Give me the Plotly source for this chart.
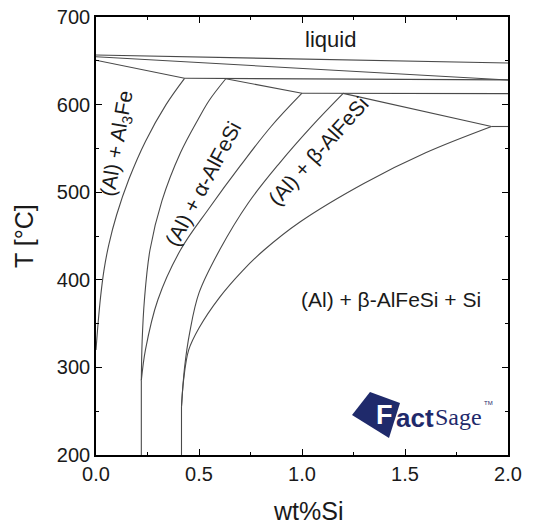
import plotly.graph_objects as go

# ---------------- data (wt% Si, T in degC) ----------------
# solvus-type curves (smooth)
c1_x = [0.0, 0.01, 0.022, 0.038, 0.062, 0.10, 0.16, 0.24, 0.34, 0.43]
c1_t = [320, 350, 380, 410, 440, 474, 515, 558, 600, 630]

trunk1_x = [0.22, 0.22]
trunk1_t = [200, 285]
ca_x = [0.22, 0.224, 0.235, 0.262, 0.32, 0.41, 0.50, 0.55, 0.63]
ca_t = [285, 330, 377, 434, 490, 545, 585, 605, 629.5]
cb_x = [0.22, 0.24, 0.30, 0.41, 0.55, 0.70, 0.85, 1.00]
cb_t = [285, 320, 377, 434, 482, 530, 575, 613]

trunk2_x = [0.415, 0.415]
trunk2_t = [200, 255]
c3l_x = [0.415, 0.43, 0.455, 0.50, 0.60, 0.74, 0.89, 1.05, 1.20]
c3l_t = [255, 300, 340, 385, 434, 488, 533, 576, 612.8]
c3r_x = [0.415, 0.425, 0.45, 0.50, 0.60, 0.71, 0.816, 0.99, 1.30, 1.60, 1.92]
c3r_t = [255, 285, 320, 345, 380, 410, 434, 466, 510, 545, 575]

# straight boundaries
l1_x = [0.0, 2.0]
l1_t = [656.6, 647.5]
l2_x = [0.0, 2.0]
l2_t = [654.6, 628.0]
l3_x = [0.0, 0.43]
l3_t = [650.7, 630]
h630_x = [0.43, 2.0]
h630_t = [630, 628.2]
s23_x = [0.63, 1.00]
s23_t = [629.5, 613]
h612_x = [1.00, 2.0]
h612_t = [613, 612.5]
s45_x = [1.20, 1.92]
s45_t = [612.8, 575]
h575_x = [1.92, 2.0]
h575_t = [575, 575]

x_ticks = [0.0, 0.5, 1.0, 1.5, 2.0]
x_ticklabels = ["0.0", "0.5", "1.0", "1.5", "2.0"]
y_ticks = [200, 300, 400, 500, 600, 700]
y_ticklabels = ["200", "300", "400", "500", "600", "700"]

FONT = "Arial, Liberation Sans, sans-serif"
CURVE = "#4a4a4a"

fig = go.Figure()

smooth = [(c1_x, c1_t), (ca_x, ca_t), (cb_x, cb_t), (c3l_x, c3l_t), (c3r_x, c3r_t)]
straight = [(trunk1_x, trunk1_t), (trunk2_x, trunk2_t), (l1_x, l1_t), (l2_x, l2_t),
            (l3_x, l3_t), (h630_x, h630_t), (s23_x, s23_t), (h612_x, h612_t),
            (s45_x, s45_t), (h575_x, h575_t)]

for xs, ts in smooth:
    fig.add_trace(go.Scatter(x=xs, y=ts, mode="lines",
                             line=dict(color=CURVE, width=1.1, shape="spline", smoothing=1.0),
                             hoverinfo="skip", showlegend=False))
for xs, ts in straight:
    fig.add_trace(go.Scatter(x=xs, y=ts, mode="lines",
                             line=dict(color=CURVE, width=1.1),
                             hoverinfo="skip", showlegend=False))

def lab(size):
    return dict(family=FONT, size=size, color="#1a1a1a")

fig.add_annotation(x=1.136, y=674, text="liquid", showarrow=False, font=lab(22),
                   xanchor="center", yanchor="middle")
fig.add_annotation(x=0.106, y=556, text="(Al) + Al<sub>3</sub>Fe", showarrow=False,
                   font=lab(21), textangle=-80, xanchor="center", yanchor="middle")
fig.add_annotation(x=0.52, y=510, text="(Al) + α-AlFeSi", showarrow=False,
                   font=lab(21), textangle=-62, xanchor="center", yanchor="middle")
fig.add_annotation(x=1.08, y=548, text="(Al) + β-AlFeSi", showarrow=False,
                   font=lab(21), textangle=-48, xanchor="center", yanchor="middle")
fig.add_annotation(x=1.432, y=377, text="(Al) + β-AlFeSi + Si", showarrow=False,
                   font=lab(21), xanchor="center", yanchor="middle")

# axis titles
fig.add_annotation(xref="paper", yref="paper", x=0.515, y=-0.128, text="wt%Si",
                   showarrow=False, xanchor="center", yanchor="middle",
                   font=dict(family=FONT, size=25, color="#1a1a1a"))
fig.add_annotation(xref="paper", yref="paper", x=-0.175, y=0.50, text="T [°C]",
                   showarrow=False, textangle=-90, xanchor="center", yanchor="middle",
                   font=dict(family=FONT, size=25, color="#1a1a1a"))

# FactSage logo (decoration)
NAVY = "#1f2a6b"
def px(p):
    return (p - 96) / 412
def py(p):
    return (455 - p) / 438
fig.add_shape(type="path", xref="paper", yref="paper",
              path=f"M {px(352)} {py(415)} L {px(370)} {py(392)} L {px(400)} {py(403)} "
                   f"L {px(389)} {py(438)} Z",
              fillcolor=NAVY, line=dict(width=0), layer="above")
fig.add_annotation(xref="paper", yref="paper", x=px(384), y=py(415), text="<b>F</b>",
                   xanchor="center", yanchor="middle", showarrow=False,
                   font=dict(family=FONT, size=27, color="white"))
fig.add_annotation(xref="paper", yref="paper", x=px(394), y=py(418), text="<b>act</b>",
                   xanchor="left", yanchor="middle", showarrow=False,
                   font=dict(family=FONT, size=26, color=NAVY))
fig.add_annotation(xref="paper", yref="paper", x=px(433), y=py(417), text="Sage",
                   xanchor="left", yanchor="middle", showarrow=False,
                   font=dict(family="Liberation Serif, DejaVu Serif, serif", size=24, color=NAVY))
fig.add_annotation(xref="paper", yref="paper", x=px(482), y=py(403), text="TM",
                   xanchor="left", yanchor="middle", showarrow=False,
                   font=dict(family=FONT, size=6, color=NAVY))

axis_common = dict(showgrid=False, zeroline=False, showline=True, linecolor="black",
                   linewidth=1.6, mirror="ticks", ticks="inside", ticklen=6, tickwidth=1.4,
                   tickcolor="black", automargin=False,
                   tickfont=dict(family=FONT, size=20, color="#1a1a1a"))

fig.update_layout(
    template="none",
    width=539, height=524,
    margin=dict(l=96, r=31, t=17, b=69),
    paper_bgcolor="white", plot_bgcolor="white",
    xaxis=dict(range=[0, 2], tickvals=x_ticks, ticktext=x_ticklabels,
               minor=dict(dtick=0.25, ticks="inside", ticklen=3, tickwidth=1.2, tickcolor="black"),
               **axis_common),
    yaxis=dict(range=[200, 700], tickvals=y_ticks, ticktext=y_ticklabels,
               minor=dict(dtick=50, ticks="inside", ticklen=3, tickwidth=1.2, tickcolor="black"),
               **axis_common),
)

fig.write_html("out.html", config={"displayModeBar": False},
               post_script="document.body.style.margin='0px';")
